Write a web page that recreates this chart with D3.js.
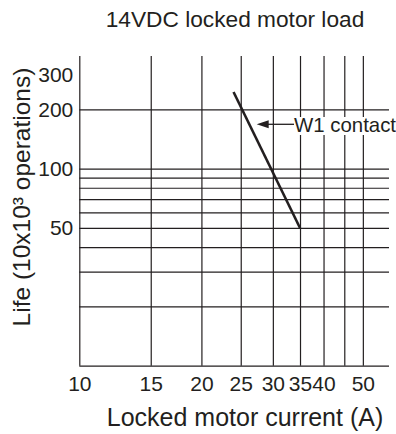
<html>
<head>
  <meta charset="UTF-8">
  <title>14VDC locked motor load</title>
  <script src="https://d3js.org/d3.v7.min.js"></script>
  <style>
    body { margin: 0; background: #fff; }
    svg text { font-family: "Liberation Sans", Arial, sans-serif; fill: #231f20; }
  </style>
</head>
<body>
  <svg id="chart" width="396" height="434"></svg>
  <script>
    // data
    const currentGrid = [10, 15, 20, 25, 30, 35, 40, 45, 50];
    const currentLabels = ["10", "15", "20", "25", "30", "35", "40", "", "50"];
    const lifeGrid = [10, 20, 30, 40, 50, 60, 70, 80, 90, 100, 200];
    const lifeLabels = [50, 100, 200, 300];
    const w1Current = [24, 35];
    const w1Life = [245, 50];

    const svg = d3.select("#chart");
    const plot = { left: 79.3, right: 389, top: 56, bottom: 365.7 };
    const plotW = plot.right - plot.left;
    const plotH = plot.bottom - plot.top;

    const x = d3.scaleLog().domain([10, 58]).range([plot.left, plot.right]);
    const y = d3.scaleLog().domain([10, 373]).range([plot.bottom, plot.top]);

    // title
    svg.append("text")
      .attr("x", 235).attr("y", 27)
      .attr("text-anchor", "middle")
      .style("font-size", "22.7px")
      .text("14VDC locked motor load");

    // gridlines
    const vGrid = svg.append("g")
      .attr("transform", `translate(0, ${plot.bottom})`)
      .call(d3.axisBottom(x).tickValues(currentGrid).tickSize(-plotH).tickFormat(""));
    const hGrid = svg.append("g")
      .attr("transform", `translate(${plot.left}, 0)`)
      .call(d3.axisLeft(y).tickValues(lifeGrid).tickSize(-plotW).tickFormat(""));
    [vGrid, hGrid].forEach(g => {
      g.select(".domain").remove();
      g.selectAll("line").attr("stroke", "#231f20").attr("stroke-width", 1.2);
    });

    // tick labels
    const xAxis = svg.append("g")
      .attr("transform", `translate(0, ${plot.bottom})`)
      .call(d3.axisBottom(x).tickValues(currentGrid).tickSize(0).tickPadding(10)
        .tickFormat((d, i) => currentLabels[i]));
    const yAxis = svg.append("g")
      .attr("transform", `translate(${plot.left}, 0)`)
      .call(d3.axisLeft(y).tickValues(lifeLabels).tickSize(0).tickPadding(6)
        .tickFormat(d3.format("d")));
    [xAxis, yAxis].forEach(g => {
      g.select(".domain").remove();
      g.selectAll("text").attr("fill", "#231f20")
        .style("font-size", "21px")
        .style("font-family", "'Liberation Sans', Arial, sans-serif");
    });

    // axis titles
    svg.append("text")
      .attr("x", 245).attr("y", 426)
      .attr("text-anchor", "middle")
      .style("font-size", "25px")
      .text("Locked motor current (A)");

    svg.append("text")
      .attr("transform", "translate(30, 197) rotate(-90)")
      .attr("text-anchor", "middle")
      .style("font-size", "24.5px")
      .text("Life (10x10³ operations)");

    // W1 contact curve
    const pts = w1Current.map((c, i) => [x(c), y(w1Life[i])]);
    svg.append("path")
      .attr("d", d3.line()(pts))
      .attr("fill", "none")
      .attr("stroke", "#231f20")
      .attr("stroke-width", 2.6);

    // annotation
    const labelX = 293, labelY = 131.7;
    svg.append("rect")
      .attr("x", labelX).attr("y", 117)
      .attr("width", 103).attr("height", 18)
      .attr("fill", "#fff");
    svg.append("text")
      .attr("x", labelX + 1).attr("y", labelY)
      .style("font-size", "20.4px")
      .text("W1 contact");
    const tipX = 256.7, arrowY = 124.3;
    svg.append("line")
      .attr("x1", tipX + 10).attr("y1", arrowY)
      .attr("x2", labelX + 1).attr("y2", arrowY)
      .attr("stroke", "#231f20").attr("stroke-width", 1.3);
    svg.append("path")
      .attr("d", `M${tipX},${arrowY} L${tipX + 12},${arrowY - 4} L${tipX + 12},${arrowY + 4} Z`)
      .attr("fill", "#231f20");
  </script>
</body>
</html>
